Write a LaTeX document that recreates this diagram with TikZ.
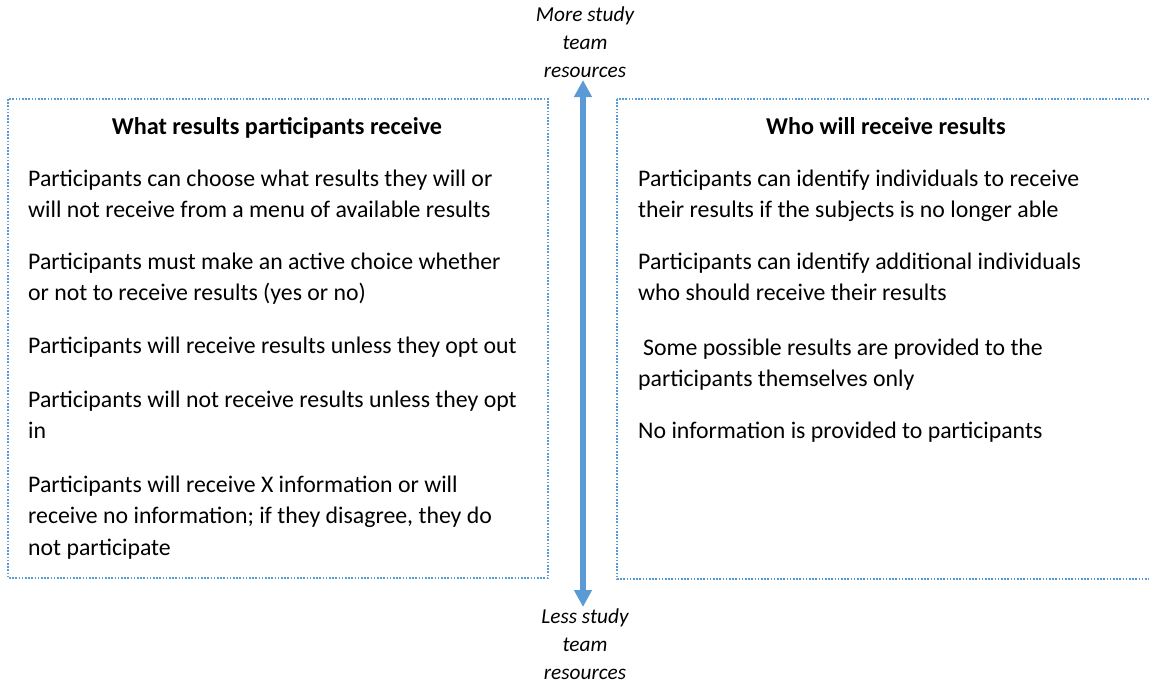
\documentclass[tikz,border=0pt]{standalone}
\usepackage{fontspec}
\setmainfont{Carlito}
\usetikzlibrary{arrows.meta}

\definecolor{accent}{RGB}{91,155,213}

% multi-line text block whose base is the first line's baseline
\newcommand{\leftlines}[1]{\parbox[t]{520pt}{\raggedright #1}}
\newcommand{\midlines}[1]{\parbox[t]{200pt}{\centering #1}}

\tikzset{
  panel/.style={draw=accent, line width=1.6pt, dash pattern=on 1.6pt off 1.6pt},
  heading/.style={anchor=base, inner sep=0pt, font=\fontsize{24.2}{31}\selectfont\bfseries},
  entry/.style={anchor=base west, inner sep=0pt, font=\fontsize{23.8}{31.3}\selectfont},
  scale label/.style={anchor=base, inner sep=0pt, font=\fontsize{21.3}{28}\selectfont\itshape},
  scale arrow/.style={accent, line width=6pt,
    {Triangle[width=17pt,length=17pt]}-{Triangle[width=17pt,length=17pt]}},
}

\begin{document}
\begin{tikzpicture}[x=1pt,y=-1pt]
  \useasboundingbox (0,0) rectangle (1149,685);
  \begin{scope}
    \clip (0,0) rectangle (1149,685);

    % two dotted panels
    \draw[panel] (8,99) rectangle (548,578);
    \draw[panel] (617,99) rectangle (1158,579);

    % left panel
    \node[heading] (lefthead) at (277,134) {What results participants receive};
    \node[entry] (l1) at (28,186) {\leftlines{Participants can choose what results they will or\\will not receive from a menu of available results}};
    \node[entry] (l2) at (28,269.5) {\leftlines{Participants must make an active choice whether\\or not to receive results (yes or no)}};
    \node[entry] (l3) at (28,353.5) {\leftlines{Participants will receive results unless they opt out}};
    \node[entry] (l4) at (28,407.5) {\leftlines{Participants will not receive results unless they opt\\in}};
    \node[entry] (l5) at (28,492.5) {\leftlines{Participants will receive X information or will\\receive no information; if they disagree, they do\\not participate}};

    % right panel
    \node[heading] (righthead) at (886,134) {Who will receive results};
    \node[entry] (r1) at (638,186) {\leftlines{Participants can identify individuals to receive\\their results if the subjects is no longer able}};
    \node[entry] (r2) at (638,269.5) {\leftlines{Participants can identify additional individuals\\who should receive their results}};
    \node[entry] (r3) at (638,355.5) {\leftlines{\hspace*{5pt}Some possible results are provided to the\\participants themselves only}};
    \node[entry] (r4) at (638,438.5) {\leftlines{No information is provided to participants}};

    % resource scale between the panels
    \node[scale label] (more) at (585,22) {\midlines{More study\\team\\resources}};
    \node[scale label] (less) at (585,623) {\midlines{Less study\\team\\resources}};
    \coordinate (moretip) at (583,80);
    \coordinate (lesstip) at (583,607);
    \draw[scale arrow] (lesstip) -- (moretip);
  \end{scope}
\end{tikzpicture}
\end{document}
